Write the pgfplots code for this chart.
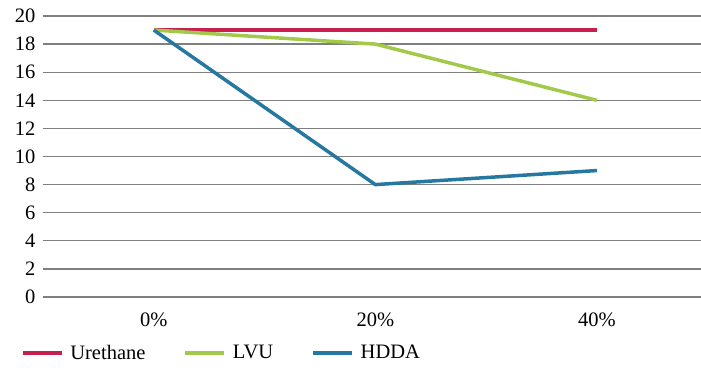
\documentclass[border=0pt]{standalone}
\usepackage{pgfplots}
\pgfplotsset{compat=1.18}
\usepackage{fontspec}
\setmainfont{Liberation Serif}
\definecolor{cRed}{HTML}{C8204E}
\definecolor{cGreen}{HTML}{A3C94A}
\definecolor{cBlue}{HTML}{2678A0}
\definecolor{cGrid}{HTML}{7F7F7F}
\begin{document}
\begin{tikzpicture}[x=1pt,y=1pt]
\begin{axis}[
  at={(0,0)}, anchor=south west,
  scale only axis, width=658pt, height=281pt,
  xmin=-0.5, xmax=2.47, ymin=0, ymax=20,
  xtick={0,1,2}, xticklabels={0\%,20\%,40\%},
  ytick={0,2,...,20},
  axis line style={draw=none},
  major tick length=0pt,
  ymajorgrids, grid style={cGrid, line width=1.2pt},
  tick label style={font=\fontsize{20.5}{20.5}\selectfont},
  /pgf/number format/assume math mode=true,
  yticklabel style={xshift=-4pt},
  xticklabel style={yshift=-12pt},
  clip=false,
  legend columns=3,
  legend style={draw=none, fill=none, at={(-0.034,-0.199)}, anchor=west,
    font=\fontsize{20.5}{20.5}\selectfont, inner sep=0pt,
    /tikz/every even column/.append style={column sep=36pt}},
  legend image code/.code={\draw[#1, line width=3.5pt] (0pt,0pt) -- (39pt,0pt); \path (44pt,0pt);},
  every axis plot/.append style={line width=3.5pt},
]
\addplot[cRed, mark=none] coordinates {(0,19) (1,19) (2,19)};
\addlegendentry{Urethane}
\addplot[cGreen, mark=none] coordinates {(0,19) (1,18) (2,14)};
\addlegendentry{LVU}
\addplot[cBlue, mark=none] coordinates {(0,19) (1,8) (2,9)};
\addlegendentry{HDDA}
\end{axis}
\pgfresetboundingbox
\path[use as bounding box] (-43,-70) rectangle (658,297);
\end{tikzpicture}
\end{document}
